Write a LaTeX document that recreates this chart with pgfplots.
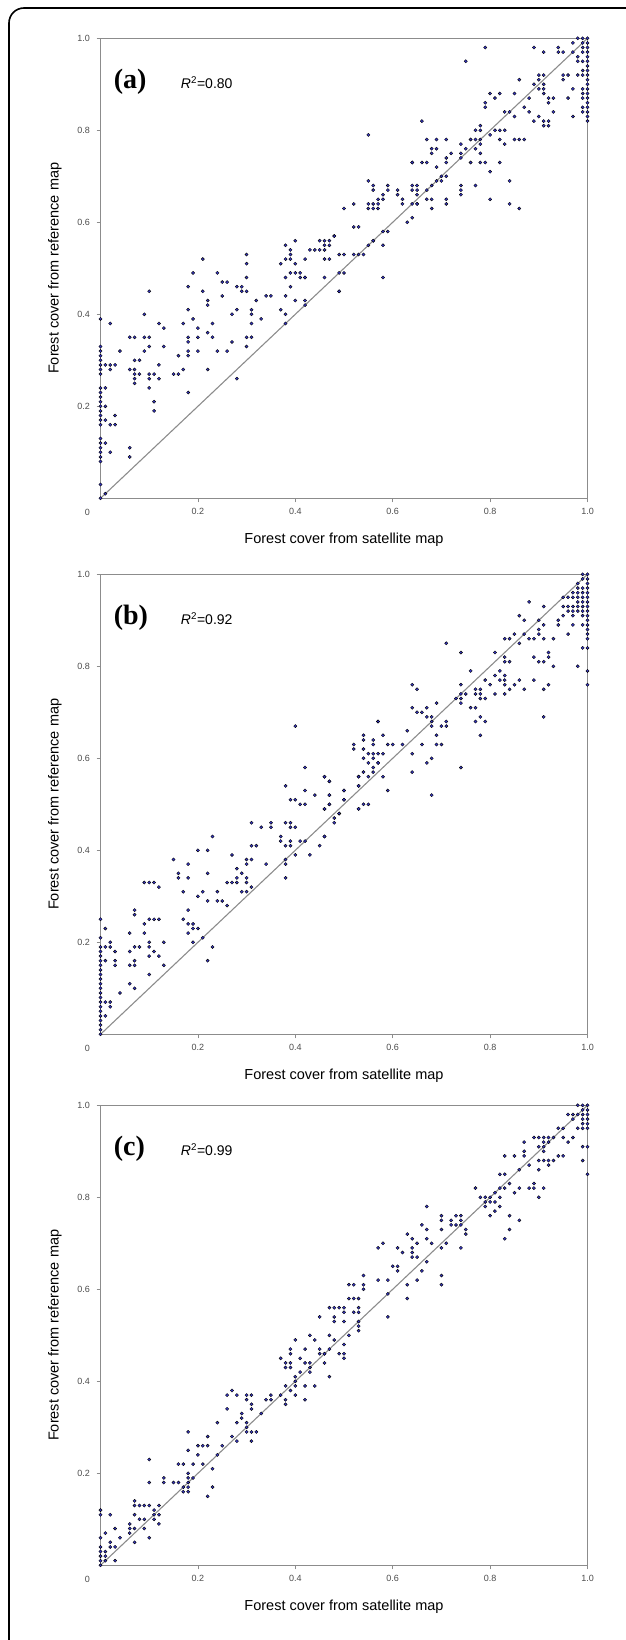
\documentclass[border=0pt]{standalone}
\usepackage{pgfplots}
\pgfplotsset{compat=1.18}
\usepackage{fontspec}
\setmainfont{Liberation Sans}
\newfontfamily\serifb{Liberation Serif}
\definecolor{dotblue}{RGB}{55,55,200}
\definecolor{axgray}{RGB}{140,140,140}
\pgfplotsset{
  panel/.style={
    width=487pt, height=460pt, scale only axis,
    xmin=0, xmax=1, ymin=0, ymax=1,
    anchor=south west,
    axis line style={axgray, line width=0.9pt},
    xtick={0.2,0.4,0.6,0.8,1.0}, xticklabels={0.2,0.4,0.6,0.8,1.0},
    ytick={0.2,0.4,0.6,0.8,1.0}, yticklabels={0.2,0.4,0.6,0.8,1.0},
    tick align=outside, major tick length=4pt,
    tick style={axgray, line width=0.6pt},
    xtick pos=bottom, ytick pos=left,
    tick label style={font=\fontsize{9}{10}\selectfont, text=black!70},
    xticklabel style={yshift=-2pt},
    yticklabel style={xshift=-3pt},
    label style={font=\fontsize{14.5}{16}\selectfont},
    xlabel={Forest cover from satellite map},
    ylabel={Forest cover from reference map},
    xlabel style={at={(axis description cs:0.5,-0.0895)}, anchor=center},
    ylabel style={at={(axis description cs:-0.0935,0.5)}, anchor=center},
    clip=false,
  },
  dots/.style={only marks, mark=*, mark size=1.6pt, mark options={fill=dotblue, draw=none}},
  diag/.style={no marks, axgray, line width=1.1pt},
}
\newcommand{\zerolabel}{\node[font=\fontsize{9}{10}\selectfont, text=black!70] at (axis cs:0,0) [xshift=-13pt, yshift=-14pt] {0};}
\begin{document}
\begin{tikzpicture}
\useasboundingbox (0pt,0pt) rectangle (625pt,-1640pt);
\draw[black, line width=1.6pt, rounded corners=15pt] (9pt,-8pt) rectangle (660pt,-1680pt);

% ---------------- (a) ----------------
\begin{axis}[panel, at={(100.5pt,-498.3pt)}]
\addplot[diag] coordinates {(0,0) (1,1)};
\addplot[dots] table {
x y
0 0.39
0 0.33
0 0.32
0 0.31
0 0.30
0 0.29
0 0.28
0 0.27
0 0.24
0 0.23
0 0.22
0 0.21
0 0.20
0 0.19
0 0.18
0 0.17
0 0.16
0 0.13
0 0.12
0 0.11
0 0.10
0 0.09
0 0.08
0 0.03
0 0.00
0.01 0.01
0.01 0.29
0.02 0.38
0.02 0.29
0.03 0.29
0.02 0.28
0.01 0.24
0.01 0.20
0.03 0.18
0.02 0.16
0.03 0.16
0.01 0.17
0.01 0.12
0.02 0.10
0.04 0.32
0.06 0.11
0.06 0.09
0.06 0.35
0.07 0.35
0.06 0.28
0.07 0.28
0.07 0.30
0.08 0.30
0.07 0.27
0.07 0.26
0.07 0.25
0.08 0.27
0.09 0.40
0.09 0.35
0.10 0.35
0.09 0.32
0.10 0.33
0.10 0.45
0.10 0.27
0.11 0.27
0.10 0.26
0.10 0.24
0.11 0.21
0.11 0.19
0.12 0.38
0.13 0.37
0.13 0.33
0.12 0.29
0.12 0.26
0.15 0.27
0.16 0.27
0.16 0.31
0.17 0.38
0.17 0.28
0.18 0.46
0.18 0.41
0.18 0.35
0.18 0.34
0.18 0.32
0.18 0.31
0.18 0.23
0.19 0.39
0.20 0.37
0.20 0.35
0.20 0.32
0.21 0.45
0.22 0.43
0.22 0.42
0.22 0.36
0.22 0.28
0.23 0.38
0.23 0.35
0.24 0.32
0.25 0.44
0.26 0.47
0.26 0.32
0.27 0.40
0.27 0.34
0.28 0.41
0.28 0.26
0.28 0.46
0.29 0.46
0.29 0.45
0.30 0.45
0.30 0.35
0.31 0.35
0.30 0.33
0.31 0.41
0.31 0.40
0.31 0.38
0.32 0.43
0.33 0.39
0.34 0.44
0.35 0.44
0.37 0.41
0.38 0.40
0.38 0.44
0.38 0.38
0.39 0.46
0.40 0.43
0.42 0.43
0.42 0.42
0.64 0.73
0.55 0.69
0.56 0.67
0.59 0.67
0.64 0.67
0.65 0.67
0.65 0.66
0.61 0.66
0.58 0.65
0.57 0.64
0.57 0.63
0.62 0.64
0.50 0.63
0.55 0.63
0.56 0.63
0.65 0.64
0.63 0.60
0.64 0.61
0.52 0.59
0.58 0.58
0.48 0.57
0.56 0.56
0.55 0.55
0.58 0.55
0.52 0.53
0.53 0.53
0.49 0.53
0.40 0.56
0.38 0.55
0.39 0.54
0.39 0.53
0.39 0.52
0.38 0.52
0.45 0.56
0.46 0.56
0.46 0.55
0.43 0.54
0.44 0.54
0.45 0.54
0.46 0.54
0.42 0.52
0.46 0.52
0.47 0.52
0.40 0.51
0.37 0.51
0.39 0.49
0.40 0.49
0.41 0.49
0.41 0.48
0.42 0.48
0.38 0.48
0.46 0.48
0.49 0.49
0.58 0.48
0.30 0.53
0.30 0.51
0.30 0.48
0.21 0.52
0.19 0.49
0.24 0.49
0.25 0.47
0.49 0.45
1.00 1.00
1.00 0.99
1.00 0.98
1.00 0.97
1.00 0.96
1.00 0.95
1.00 0.94
1.00 0.93
1.00 0.92
1.00 0.91
1.00 0.90
1.00 0.89
1.00 0.88
1.00 0.87
1.00 0.86
1.00 0.85
1.00 0.84
1.00 0.83
1.00 0.82
0.99 1.00
0.99 0.99
0.99 0.98
0.99 0.97
0.99 0.95
0.99 0.93
0.99 0.92
0.99 0.89
0.99 0.88
0.99 0.87
0.99 0.85
0.99 0.84
0.98 1.00
0.97 0.99
0.98 0.96
0.98 0.95
0.97 0.97
0.96 0.92
0.95 0.92
0.95 0.91
0.98 0.92
0.97 0.89
0.96 0.87
0.97 0.83
0.94 0.98
0.94 0.97
0.95 0.97
0.91 0.97
0.89 0.98
0.79 0.98
0.75 0.95
0.90 0.92
0.91 0.92
0.90 0.91
0.91 0.90
0.89 0.90
0.90 0.89
0.91 0.89
0.91 0.88
0.92 0.87
0.93 0.87
0.92 0.86
0.93 0.84
0.88 0.87
0.86 0.91
0.85 0.88
0.80 0.88
0.81 0.87
0.82 0.88
0.79 0.86
0.79 0.85
0.83 0.84
0.84 0.84
0.85 0.83
0.87 0.85
0.88 0.84
0.89 0.82
0.90 0.83
0.91 0.82
0.91 0.81
0.92 0.81
0.92 0.82
0.66 0.82
0.55 0.79
0.78 0.81
0.78 0.80
0.77 0.80
0.80 0.79
0.81 0.80
0.82 0.80
0.83 0.80
0.82 0.78
0.83 0.77
0.85 0.78
0.86 0.78
0.87 0.78
0.78 0.78
0.78 0.77
0.77 0.78
0.76 0.78
0.74 0.77
0.75 0.76
0.74 0.75
0.74 0.74
0.78 0.75
0.77 0.76
0.71 0.78
0.71 0.74
0.71 0.73
0.72 0.75
0.69 0.78
0.67 0.78
0.68 0.76
0.68 0.75
0.69 0.76
0.64 0.73
0.66 0.73
0.67 0.73
0.69 0.72
0.76 0.73
0.78 0.73
0.79 0.73
0.80 0.71
0.82 0.73
0.70 0.70
0.71 0.70
0.70 0.69
0.69 0.69
0.68 0.68
0.67 0.67
0.74 0.68
0.74 0.67
0.74 0.66
0.77 0.68
0.84 0.69
0.56 0.68
0.59 0.68
0.58 0.66
0.57 0.65
0.61 0.67
0.62 0.65
0.64 0.68
0.65 0.68
0.52 0.64
0.55 0.64
0.56 0.64
0.64 0.64
0.65 0.64
0.67 0.65
0.68 0.65
0.68 0.63
0.71 0.65
0.71 0.64
0.80 0.65
0.84 0.64
0.86 0.63
0.53 0.59
0.59 0.58
0.56 0.56
0.54 0.53
0.50 0.53
0.47 0.56
0.48 0.57
0.47 0.55
0.50 0.49
0.42 0.48
0.49 0.45
};
\zerolabel
\node[anchor=base west, font=\serifb\bfseries\fontsize{28}{30}\selectfont] at (rel axis cs:0.02,0.891) {(a)};
\node[anchor=base west, font=\fontsize{14}{16}\selectfont] at (rel axis cs:0.158,0.891) {\textit{R}\textsuperscript{2}=0.80};
\end{axis}

% ---------------- (b) ----------------
\begin{axis}[panel, at={(100.5pt,-1034.3pt)}]
\addplot[diag] coordinates {(0,0) (1,1)};
\addplot[dots] table {
x y
0 0.25
0 0.21
0 0.19
0 0.18
0 0.17
0 0.16
0 0.15
0 0.14
0 0.13
0 0.12
0 0.11
0 0.10
0 0.09
0 0.08
0 0.07
0 0.06
0 0.05
0 0.04
0 0.03
0 0.02
0 0.01
0 0.00
0.01 0.23
0.02 0.20
0.01 0.19
0.02 0.19
0.03 0.18
0.03 0.16
0.03 0.15
0.01 0.16
0.01 0.07
0.02 0.07
0.02 0.06
0.01 0.04
0.04 0.09
0.06 0.22
0.07 0.27
0.07 0.26
0.06 0.18
0.07 0.19
0.08 0.19
0.06 0.15
0.07 0.15
0.07 0.16
0.06 0.11
0.07 0.10
0.09 0.24
0.09 0.22
0.10 0.25
0.11 0.25
0.12 0.25
0.09 0.33
0.10 0.33
0.11 0.33
0.12 0.32
0.10 0.20
0.10 0.19
0.11 0.18
0.10 0.17
0.10 0.13
0.12 0.17
0.13 0.20
0.13 0.15
0.15 0.38
0.16 0.35
0.16 0.34
0.17 0.31
0.17 0.25
0.18 0.37
0.18 0.34
0.18 0.27
0.18 0.24
0.19 0.24
0.18 0.22
0.19 0.23
0.19 0.20
0.20 0.40
0.20 0.30
0.21 0.31
0.21 0.21
0.20 0.23
0.22 0.40
0.22 0.35
0.22 0.29
0.22 0.16
0.23 0.43
0.23 0.19
0.24 0.31
0.24 0.29
0.25 0.29
0.26 0.28
0.27 0.39
0.26 0.33
0.27 0.33
0.28 0.33
0.28 0.36
0.28 0.34
0.29 0.35
0.30 0.34
0.30 0.33
0.29 0.31
0.30 0.31
0.30 0.38
0.30 0.37
0.31 0.38
0.31 0.32
0.31 0.46
0.31 0.41
0.32 0.41
0.33 0.45
0.34 0.37
0.35 0.46
0.35 0.45
0.37 0.43
0.37 0.42
0.38 0.54
0.38 0.38
0.38 0.37
0.38 0.34
0.38 0.46
0.39 0.46
0.38 0.41
0.39 0.41
0.39 0.45
0.40 0.45
0.39 0.42
0.40 0.67
0.39 0.51
0.40 0.51
0.40 0.39
0.41 0.42
0.42 0.42
0.42 0.58
0.41 0.50
0.42 0.50
0.42 0.53
0.43 0.39
0.44 0.52
0.45 0.41
0.46 0.56
0.46 0.49
0.46 0.43
0.47 0.55
0.47 0.52
0.47 0.50
0.48 0.47
0.49 0.48
0.50 0.53
0.50 0.51
0.52 0.62
0.53 0.56
0.53 0.54
0.53 0.49
0.54 0.64
0.55 0.61
0.55 0.59
0.55 0.56
0.55 0.50
0.56 0.63
0.56 0.60
0.56 0.57
0.57 0.68
0.57 0.59
1.00 1.00
1.00 0.99
1.00 0.98
1.00 0.97
1.00 0.96
1.00 0.95
1.00 0.94
1.00 0.93
1.00 0.92
1.00 0.91
1.00 0.90
1.00 0.89
1.00 0.88
1.00 0.87
1.00 0.86
1.00 0.84
1.00 0.79
1.00 0.76
0.99 1.00
0.99 0.99
0.99 0.97
0.99 0.96
0.99 0.95
0.99 0.94
0.99 0.93
0.99 0.92
0.99 0.91
0.99 0.89
0.99 0.84
0.98 0.98
0.98 0.97
0.98 0.96
0.98 0.95
0.98 0.94
0.98 0.93
0.98 0.92
0.97 0.91
0.97 0.96
0.97 0.95
0.97 0.93
0.97 0.92
0.96 0.93
0.96 0.92
0.96 0.95
0.95 0.93
0.95 0.91
0.96 0.87
0.97 0.89
0.98 0.80
0.95 0.95
0.94 0.90
0.94 0.89
0.93 0.86
0.92 0.83
0.92 0.82
0.91 0.81
0.90 0.81
0.89 0.82
0.93 0.80
0.91 0.93
0.88 0.94
0.86 0.91
0.87 0.90
0.90 0.90
0.90 0.88
0.90 0.87
0.91 0.89
0.89 0.86
0.88 0.86
0.91 0.86
0.87 0.87
0.86 0.85
0.85 0.87
0.83 0.86
0.84 0.86
0.81 0.83
0.83 0.82
0.83 0.81
0.84 0.81
0.74 0.83
0.71 0.85
0.76 0.79
0.81 0.78
0.82 0.79
0.82 0.77
0.83 0.78
0.80 0.76
0.79 0.77
0.83 0.77
0.83 0.76
0.84 0.75
0.85 0.76
0.86 0.77
0.87 0.75
0.89 0.77
0.91 0.75
0.92 0.76
0.83 0.74
0.81 0.74
0.91 0.69
0.64 0.76
0.65 0.75
0.74 0.76
0.74 0.74
0.74 0.73
0.74 0.72
0.73 0.73
0.75 0.74
0.77 0.75
0.78 0.75
0.78 0.74
0.78 0.73
0.79 0.73
0.77 0.74
0.76 0.71
0.77 0.71
0.77 0.68
0.78 0.69
0.79 0.68
0.78 0.65
0.64 0.71
0.65 0.70
0.66 0.70
0.67 0.71
0.67 0.69
0.68 0.69
0.68 0.68
0.68 0.67
0.69 0.72
0.71 0.68
0.71 0.67
0.70 0.67
0.69 0.65
0.69 0.63
0.70 0.63
0.67 0.59
0.68 0.60
0.68 0.52
0.74 0.58
0.64 0.57
0.66 0.63
0.63 0.66
0.62 0.63
0.64 0.61
0.57 0.68
0.54 0.65
0.56 0.64
0.58 0.65
0.52 0.63
0.54 0.62
0.56 0.61
0.54 0.60
0.57 0.61
0.58 0.61
0.59 0.63
0.60 0.63
0.57 0.59
0.56 0.58
0.54 0.57
0.58 0.56
0.59 0.53
0.46 0.56
0.47 0.55
0.53 0.56
0.53 0.54
0.50 0.53
0.50 0.51
0.47 0.52
0.47 0.50
0.46 0.49
0.48 0.46
0.49 0.48
0.53 0.49
0.54 0.50
0.46 0.43
};
\zerolabel
\node[anchor=base west, font=\serifb\bfseries\fontsize{28}{30}\selectfont] at (rel axis cs:0.02,0.891) {(b)};
\node[anchor=base west, font=\fontsize{14}{16}\selectfont] at (rel axis cs:0.158,0.891) {\textit{R}\textsuperscript{2}=0.92};
\end{axis}

% ---------------- (c) ----------------
\begin{axis}[panel, at={(100.5pt,-1565.3pt)}]
\addplot[diag] coordinates {(0,0) (1,1)};
\addplot[dots] table {
x y
0 0.12
0 0.11
0 0.06
0 0.04
0 0.03
0 0.02
0 0.01
0 0.00
0.01 0.03
0.01 0.02
0.01 0.01
0.01 0.07
0.02 0.11
0.02 0.05
0.02 0.04
0.03 0.04
0.03 0.08
0.03 0.01
0.04 0.06
0.06 0.09
0.06 0.08
0.06 0.07
0.07 0.14
0.07 0.13
0.07 0.11
0.07 0.08
0.07 0.05
0.08 0.13
0.09 0.13
0.10 0.13
0.08 0.10
0.09 0.10
0.10 0.23
0.10 0.18
0.10 0.06
0.09 0.08
0.11 0.12
0.11 0.11
0.12 0.11
0.12 0.09
0.12 0.13
0.11 0.10
0.13 0.19
0.13 0.18
0.15 0.18
0.16 0.18
0.16 0.22
0.17 0.22
0.17 0.17
0.18 0.17
0.18 0.16
0.17 0.16
0.18 0.18
0.18 0.19
0.18 0.20
0.19 0.19
0.18 0.29
0.18 0.25
0.19 0.22
0.20 0.26
0.21 0.26
0.22 0.26
0.20 0.24
0.21 0.22
0.22 0.28
0.23 0.21
0.23 0.17
0.22 0.15
0.24 0.24
0.24 0.31
0.25 0.26
0.26 0.37
0.27 0.38
0.28 0.37
0.26 0.34
0.27 0.28
0.28 0.27
0.28 0.31
0.29 0.32
0.29 0.33
0.30 0.31
0.30 0.30
0.30 0.29
0.31 0.29
0.30 0.37
0.30 0.36
0.31 0.37
0.31 0.35
0.31 0.34
0.31 0.27
0.32 0.29
0.33 0.33
0.34 0.36
0.35 0.37
0.35 0.36
0.37 0.45
0.38 0.44
0.38 0.43
0.39 0.44
0.39 0.43
0.38 0.36
0.38 0.35
0.37 0.37
0.38 0.39
0.39 0.38
0.39 0.47
0.39 0.46
0.40 0.49
0.40 0.41
0.40 0.40
0.40 0.39
0.40 0.37
0.41 0.42
0.41 0.45
0.42 0.47
0.42 0.44
0.43 0.44
0.42 0.39
0.42 0.36
0.44 0.39
0.43 0.43
0.43 0.42
0.45 0.46
0.46 0.46
0.46 0.44
0.47 0.50
0.47 0.47
0.47 0.41
0.48 0.49
0.49 0.46
0.50 0.45
0.50 0.53
0.52 0.55
0.53 0.55
0.53 0.53
0.53 0.52
1.00 1.00
1.00 0.99
1.00 0.98
1.00 0.97
1.00 0.96
1.00 0.95
1.00 0.91
1.00 0.85
0.99 1.00
0.99 0.99
0.99 0.98
0.99 0.97
0.99 0.96
0.99 0.95
0.99 0.88
0.99 0.91
0.98 1.00
0.98 0.98
0.98 0.95
0.97 0.98
0.97 0.97
0.96 0.98
0.97 0.93
0.96 0.92
0.95 0.93
0.94 0.95
0.95 0.95
0.93 0.93
0.92 0.93
0.91 0.93
0.90 0.93
0.89 0.93
0.92 0.92
0.91 0.92
0.91 0.91
0.90 0.91
0.87 0.92
0.87 0.90
0.87 0.89
0.85 0.89
0.83 0.89
0.91 0.90
0.94 0.89
0.95 0.89
0.90 0.88
0.91 0.88
0.92 0.88
0.93 0.88
0.92 0.87
0.88 0.87
0.90 0.86
0.86 0.86
0.82 0.85
0.83 0.85
0.84 0.83
0.83 0.82
0.82 0.82
0.88 0.82
0.89 0.83
0.89 0.82
0.91 0.82
0.86 0.82
0.90 0.80
0.85 0.81
0.77 0.82
0.78 0.80
0.79 0.80
0.80 0.80
0.79 0.79
0.80 0.79
0.81 0.79
0.81 0.81
0.82 0.80
0.79 0.78
0.81 0.77
0.80 0.76
0.82 0.78
0.84 0.76
0.84 0.73
0.83 0.71
0.86 0.75
0.67 0.78
0.70 0.76
0.70 0.75
0.70 0.73
0.72 0.75
0.72 0.74
0.73 0.74
0.73 0.76
0.74 0.76
0.74 0.75
0.74 0.74
0.75 0.73
0.75 0.72
0.74 0.69
0.66 0.74
0.67 0.73
0.67 0.71
0.63 0.72
0.64 0.71
0.65 0.70
0.68 0.70
0.70 0.69
0.71 0.70
0.57 0.69
0.58 0.70
0.61 0.69
0.62 0.68
0.64 0.69
0.64 0.68
0.64 0.67
0.65 0.67
0.67 0.66
0.60 0.65
0.61 0.65
0.61 0.64
0.66 0.64
0.65 0.62
0.63 0.61
0.63 0.58
0.70 0.63
0.70 0.61
0.54 0.63
0.54 0.61
0.54 0.60
0.51 0.61
0.52 0.61
0.57 0.62
0.59 0.62
0.59 0.59
0.51 0.58
0.52 0.58
0.53 0.58
0.53 0.56
0.47 0.56
0.48 0.56
0.49 0.56
0.50 0.56
0.50 0.55
0.48 0.54
0.48 0.53
0.45 0.54
0.59 0.54
0.53 0.51
0.51 0.50
0.50 0.48
0.50 0.46
0.44 0.49
0.43 0.50
0.45 0.47
0.46 0.46
};
\zerolabel
\node[anchor=base west, font=\serifb\bfseries\fontsize{28}{30}\selectfont] at (rel axis cs:0.02,0.891) {(c)};
\node[anchor=base west, font=\fontsize{14}{16}\selectfont] at (rel axis cs:0.158,0.891) {\textit{R}\textsuperscript{2}=0.99};
\end{axis}
\end{tikzpicture}
\end{document}
